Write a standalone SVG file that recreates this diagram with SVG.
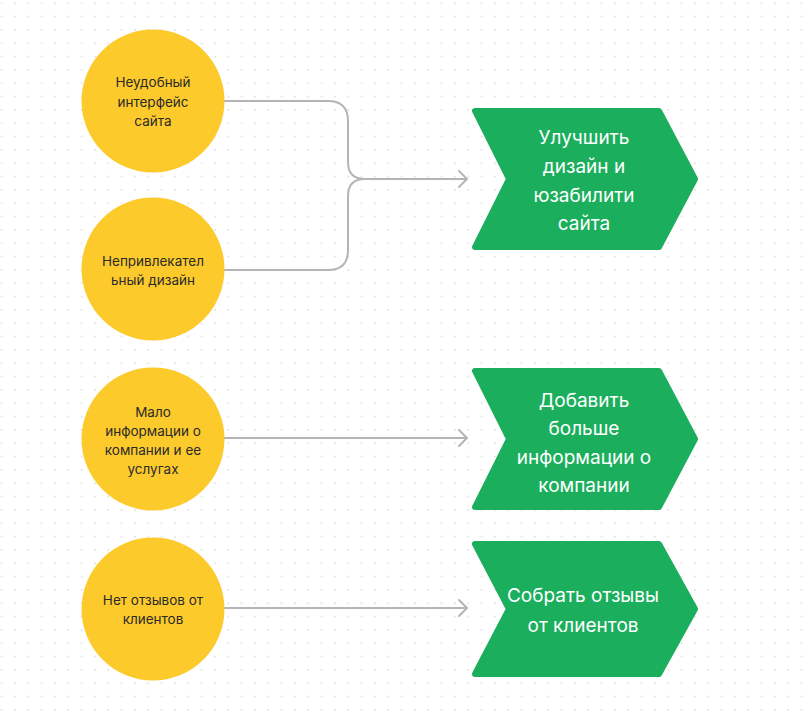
<svg xmlns="http://www.w3.org/2000/svg" width="808" height="721" viewBox="0 0 808 721">
<defs>
<pattern id="dots" x="8.33" y="-3.33" width="13.333" height="13.333" patternUnits="userSpaceOnUse">
<circle cx="6.667" cy="6.667" r="0.75" fill="#c2c2c2"/>
</pattern>
<marker id="arr" viewBox="0 0 10 20" refX="9" refY="10" markerWidth="10" markerHeight="20" markerUnits="userSpaceOnUse" orient="auto">
<path d="M1,2 L9,10 L1,18" fill="none" stroke="#b5b5b5" stroke-width="2" stroke-linecap="round" stroke-linejoin="round"/>
</marker>
<style>
.circ{fill:#FDCA2C}
.chev{fill:#1BAF5D;stroke:#1BAF5D;stroke-width:6;stroke-linejoin:round}
.ct{font-family:Inter,"Noto Sans",sans-serif;font-size:13.5px;fill:#2a2a2a;text-anchor:middle;dominant-baseline:central}
.gt{font-family:Inter,"Noto Sans",sans-serif;font-size:19px;fill:#ffffff;text-anchor:middle;dominant-baseline:central}
.con{fill:none;stroke:#b5b5b5;stroke-width:2}
</style>
</defs>
<rect width="808" height="721" fill="#ffffff"/>
<rect width="808" height="721" fill="url(#dots)"/>

<g id="connectors">
<path class="con" d="M224,101 H328 Q348,101 348,121 V162 Q348,179 365,179 H467" marker-end="url(#arr)"/>
<path class="con" d="M224,270 H328 Q348,270 348,250 V196 Q348,179 365,179"/>
<path class="con" d="M224,438 H467" marker-end="url(#arr)"/>
<path class="con" d="M224,608 H467" marker-end="url(#arr)"/>
</g>

<g id="n1">
<circle class="circ" cx="153" cy="101" r="71.5"/>
<text class="ct" x="153" y="82">Неудобный</text>
<text class="ct" x="153" y="102">интерфейс</text>
<text class="ct" x="153" y="121">сайта</text>
</g>
<g id="n2">
<circle class="circ" cx="153" cy="269" r="71.5"/>
<text class="ct" x="153" y="261">Непривлекател</text>
<text class="ct" x="153" y="280">ьный дизайн</text>
</g>
<g id="n3">
<circle class="circ" cx="153" cy="439" r="71.5"/>
<text class="ct" x="153" y="412">Мало</text>
<text class="ct" x="153" y="431">информации о</text>
<text class="ct" x="153" y="450">компании и ее</text>
<text class="ct" x="153" y="469">услугах</text>
</g>
<g id="n4">
<circle class="circ" cx="153" cy="609" r="71.5"/>
<text class="ct" x="153" y="600">Нет отзывов от</text>
<text class="ct" x="153" y="619">клиентов</text>
</g>

<g id="g1">
<polygon class="chev" points="475,111 659,111 695,179 659,247 475,247 509,179"/>
<text class="gt" x="584" y="137">Улучшить</text>
<text class="gt" x="584" y="166">дизайн и</text>
<text class="gt" x="584" y="195">юзабилити</text>
<text class="gt" x="584" y="223">сайта</text>
</g>
<g id="g2">
<polygon class="chev" points="475,371 659,371 695,439 659,507 475,507 509,439"/>
<text class="gt" x="584" y="400">Добавить</text>
<text class="gt" x="584" y="428">больше</text>
<text class="gt" x="584" y="457">информации о</text>
<text class="gt" x="584" y="485">компании</text>
</g>
<g id="g3">
<polygon class="chev" points="475,544 659,544 695,609 659,674 475,674 509,609"/>
<text class="gt" x="583" y="595">Собрать отзывы</text>
<text class="gt" x="583" y="625">от клиентов</text>
</g>
</svg>
